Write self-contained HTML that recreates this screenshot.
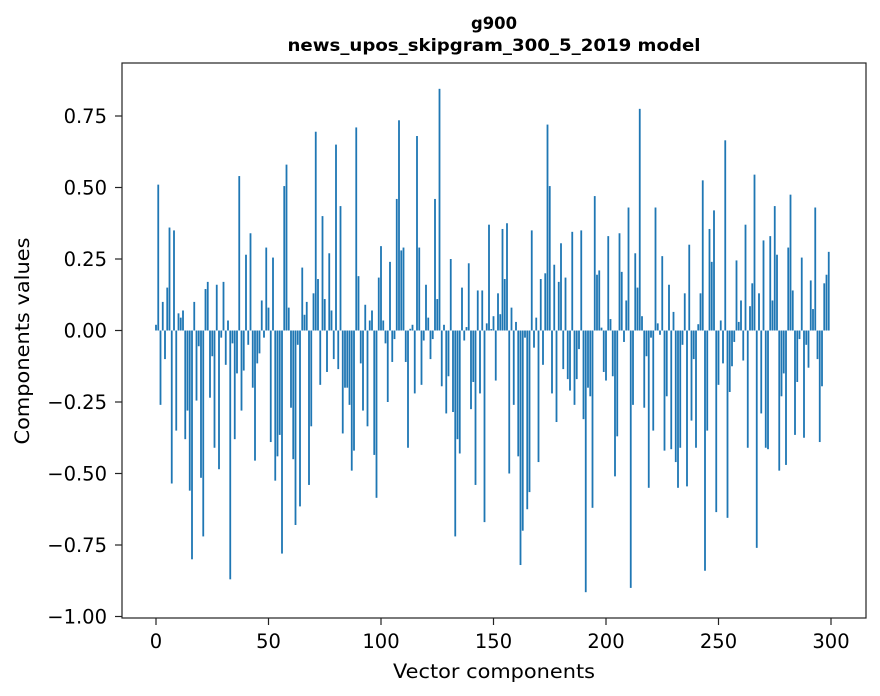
<!DOCTYPE html>
<html><head><meta charset="utf-8"><style>
html,body{margin:0;padding:0;background:#fff;}
svg{display:block;font-family:"DejaVu Sans","Liberation Sans",sans-serif;}
</style></head><body>
<svg id="chart" width="880" height="696" viewBox="0 0 880 696">
<rect width="880" height="696" fill="#fff"/>
<text x="494" y="29" text-anchor="middle" font-size="17" font-weight="bold" textLength="46" lengthAdjust="spacingAndGlyphs">g900</text>
<text x="494" y="51" text-anchor="middle" font-size="17" font-weight="bold" textLength="413" lengthAdjust="spacingAndGlyphs">news_upos_skipgram_300_5_2019 model</text>
<g id="bars"></g>
<g id="xticks"></g>
<g id="yticks"></g>
<rect x="122" y="63" width="744" height="555" fill="none" stroke="#222" stroke-width="1.2"/>
<text x="494" y="678" text-anchor="middle" font-size="19.5" textLength="202" lengthAdjust="spacingAndGlyphs">Vector components</text>
<text transform="translate(29,341) rotate(-90)" text-anchor="middle" font-size="19.5" textLength="207" lengthAdjust="spacingAndGlyphs">Components values</text>
</svg>
<script>
const values = [0.02,0.51,-0.26,0.10,-0.10,0.15,0.36,-0.535,0.35,-0.35,
0.06,0.045,0.07,-0.38,-0.28,-0.56,-0.80,0.10,-0.245,-0.055,
-0.515,-0.72,0.145,0.17,-0.235,-0.09,-0.41,0.16,-0.485,-0.025,
0.17,-0.12,0.035,-0.87,-0.045,-0.38,-0.15,0.54,-0.28,-0.14,
0.265,-0.05,0.34,-0.20,-0.455,-0.115,-0.08,0.105,-0.025,0.29,
0.08,-0.39,0.255,-0.525,-0.44,-0.365,-0.78,0.505,0.58,0.08,
-0.27,-0.45,-0.68,-0.05,-0.615,0.22,0.055,0.10,-0.54,-0.335,
0.13,0.695,0.18,-0.19,0.40,0.11,-0.145,0.27,0.07,-0.10,
0.65,-0.135,0.435,-0.36,-0.20,-0.20,-0.26,-0.49,-0.42,0.71,
0.19,-0.115,-0.28,0.09,-0.335,0.035,0.07,-0.435,-0.585,0.185,
0.295,0.035,-0.045,-0.25,0.24,-0.11,-0.03,0.46,0.735,0.28,
0.29,-0.11,-0.41,0.006,0.02,-0.22,0.68,0.29,-0.19,-0.035,
0.16,0.045,-0.10,-0.03,0.46,0.11,0.845,-0.195,0.02,-0.29,
-0.16,0.25,-0.285,-0.72,-0.38,-0.43,0.15,-0.035,0.012,0.235,
-0.275,-0.18,-0.54,0.14,-0.22,0.14,-0.67,0.025,0.37,0.005,
0.05,-0.175,0.13,0.057,0.355,0.18,0.375,-0.50,0.08,-0.26,
0.03,-0.44,-0.82,-0.70,-0.025,-0.625,-0.565,0.35,-0.06,0.045,
-0.46,0.18,-0.12,0.20,0.72,0.505,-0.22,0.23,-0.32,0.17,
0.305,-0.135,0.185,-0.17,-0.21,0.345,-0.26,-0.17,-0.065,0.35,
-0.31,-0.915,-0.20,-0.23,-0.62,0.47,0.195,0.21,0.01,-0.145,
-0.175,0.33,0.04,-0.16,-0.51,-0.37,0.34,0.205,-0.04,0.105,
0.43,-0.90,-0.26,0.27,0.15,0.775,0.05,-0.27,-0.09,-0.55,
-0.025,-0.35,0.43,0.025,-0.015,0.26,-0.42,-0.23,0.16,-0.415,
0.065,-0.46,-0.55,-0.41,-0.05,0.13,-0.545,0.30,-0.315,-0.10,
-0.41,0.022,0.13,0.525,-0.84,-0.35,0.355,0.24,0.42,-0.635,
-0.19,0.035,-0.115,0.665,-0.655,-0.215,-0.125,-0.04,0.245,0.03,
0.105,-0.105,0.37,-0.41,0.085,0.165,0.545,-0.76,0.13,-0.29,
0.315,-0.41,-0.415,0.33,0.105,0.435,0.265,-0.49,-0.23,-0.15,
-0.47,0.29,0.475,0.14,-0.365,-0.18,-0.03,0.255,-0.375,-0.05,
-0.13,0.175,0.075,0.43,-0.10,-0.39,-0.195,0.165,0.195,0.275];
const xTicks = [0,50,100,150,200,250,300];
const yTicks = [0.75,0.5,0.25,0,-0.25,-0.5,-0.75,-1.0];
const yTickLabels = ["0.75","0.50","0.25","0.00","\u22120.25","\u22120.50","\u22120.75","\u22121.00"];

const NS = "http://www.w3.org/2000/svg";
function xs(i){ return 156 + i*2.25; }
function ys(v){ return 330.5 - v*286; }
const bw = 0.8*2.25;
const bars = document.getElementById('bars');
values.forEach((v,i)=>{
  const r = document.createElementNS(NS,'rect');
  const y0 = ys(0), y1 = ys(v);
  r.setAttribute('x', xs(i)-bw/2);
  r.setAttribute('y', Math.min(y0,y1));
  r.setAttribute('width', bw);
  r.setAttribute('height', Math.max(Math.abs(y1-y0),0.3));
  r.setAttribute('fill', '#1f77b4');
  
  
  bars.appendChild(r);
});
const xg = document.getElementById('xticks');
xTicks.forEach(t=>{
  const l = document.createElementNS(NS,'line');
  l.setAttribute('x1', xs(t)); l.setAttribute('x2', xs(t));
  l.setAttribute('y1', 618); l.setAttribute('y2', 625);
  l.setAttribute('stroke', '#222');
  l.setAttribute('stroke-width', '1.2');
  
  
  xg.appendChild(l);
  const tx = document.createElementNS(NS,'text');
  tx.setAttribute('x', xs(t)); tx.setAttribute('y', 648);
  tx.setAttribute('text-anchor', 'middle'); tx.setAttribute('font-size', '19.5');
  tx.textContent = String(t);
  
  
  xg.appendChild(tx);
});
const yg = document.getElementById('yticks');
yTicks.forEach((t,k)=>{
  const l = document.createElementNS(NS,'line');
  l.setAttribute('x1', 115); l.setAttribute('x2', 122);
  l.setAttribute('y1', ys(t)); l.setAttribute('y2', ys(t));
  l.setAttribute('stroke', '#222');
  l.setAttribute('stroke-width', '1.2');
  
  
  yg.appendChild(l);
  const tx = document.createElementNS(NS,'text');
  tx.setAttribute('x', 107); tx.setAttribute('y', ys(t)+7);
  tx.setAttribute('text-anchor', 'end'); tx.setAttribute('font-size', '19.5');
  tx.textContent = yTickLabels[k];
  
  
  yg.appendChild(tx);
});
</script>
</body></html>
